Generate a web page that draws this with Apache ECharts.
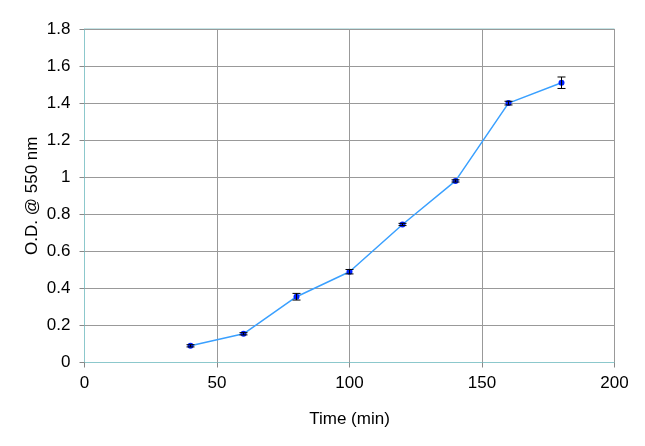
<!DOCTYPE html>
<html>
<head>
<meta charset="utf-8">
<script src="https://cdn.jsdelivr.net/npm/echarts@6/dist/echarts.min.js"></script>
<style>html,body{margin:0;padding:0;background:#fff}#c{width:645px;height:446px}</style>
</head>
<body>
<div id="c"></div>
<script>
const times = [40, 60, 80, 100, 120, 140, 160, 180];
const odValues = [0.09, 0.155, 0.355, 0.49, 0.745, 0.98, 1.40, 1.51];
const odErrors = [0.006, 0.006, 0.018, 0.012, 0.006, 0.006, 0.01, 0.031];
const xTicks = [0, 50, 100, 150, 200];
const yTicks = [0, 0.2, 0.4, 0.6, 0.8, 1, 1.2, 1.4, 1.6, 1.8];

const chart = echarts.init(document.getElementById('c'), null, {renderer: 'canvas'});
const font = 'Liberation Sans, Arial, sans-serif';
const lineData = times.map((t, i) => [t, odValues[i]]);
const errData = times.map((t, i) => [t, odValues[i] - odErrors[i], odValues[i] + odErrors[i]]);

chart.setOption({
  animation: false,
  grid: {left: 84.5, right: 30.5, top: 29, bottom: 83.5, show: true, borderColor: '#8cc8cc', borderWidth: 1, backgroundColor: '#fff'},
  xAxis: {
    type: 'value', min: xTicks[0], max: xTicks[xTicks.length - 1], interval: 50,
    name: 'Time (min)', nameLocation: 'middle', nameGap: 48,
    nameTextStyle: {fontFamily: font, fontSize: 17, color: '#000'},
    axisLine: {show: true, onZero: false, lineStyle: {color: '#8cc8cc'}},
    axisTick: {show: true, length: 5, lineStyle: {color: '#888'}},
    axisLabel: {fontFamily: font, fontSize: 17, color: '#000', margin: 12},
    splitLine: {show: true, lineStyle: {color: '#999', width: 1}}
  },
  yAxis: {
    type: 'value', min: yTicks[0], max: yTicks[yTicks.length - 1], interval: 0.2,
    name: 'O.D. @ 550 nm', nameLocation: 'middle', nameGap: 44, nameRotate: 90,
    nameMoveOverlap: false,
    nameTextStyle: {fontFamily: font, fontSize: 17, color: '#000'},
    axisLine: {show: true, onZero: false, lineStyle: {color: '#8cc8cc'}},
    axisTick: {show: true, length: 5, lineStyle: {color: '#888'}},
    axisLabel: {fontFamily: font, fontSize: 17, color: '#000', margin: 14,
      formatter: v => String(Math.round(v * 10) / 10)},
    splitLine: {show: true, lineStyle: {color: '#999', width: 1}}
  },
  series: [
    {
      type: 'line', data: lineData, symbol: 'circle', symbolSize: 6,
      lineStyle: {color: '#3aa0ff', width: 1.5},
      itemStyle: {color: '#0022ff'}, z: 3
    },
    {
      type: 'custom', data: errData, z: 4,
      renderItem: function (params, api) {
        const x = api.value(0);
        const lo = api.coord([x, api.value(1)]);
        const hi = api.coord([x, api.value(2)]);
        const w = 4;
        const style = {stroke: '#000', lineWidth: 1};
        return {type: 'group', children: [
          {type: 'line', shape: {x1: lo[0], y1: lo[1], x2: hi[0], y2: hi[1]}, style},
          {type: 'line', shape: {x1: lo[0] - w, y1: lo[1], x2: lo[0] + w, y2: lo[1]}, style},
          {type: 'line', shape: {x1: hi[0] - w, y1: hi[1], x2: hi[0] + w, y2: hi[1]}, style}
        ]};
      }
    }
  ]
});
</script>
</body>
</html>
